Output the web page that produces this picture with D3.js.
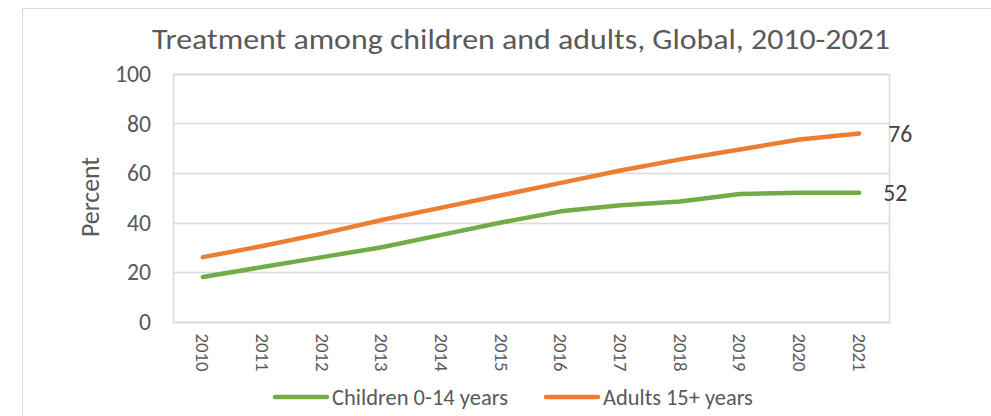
<!DOCTYPE html>
<html>
<head>
<meta charset="utf-8">
<script src="https://cdn.jsdelivr.net/npm/d3@7"></script>
<style>
  html, body { margin: 0; padding: 0; background: #fff; }
  svg { display: block; font-family: Carlito, Calibri, Lato, "Open Sans", sans-serif; }
</style>
</head>
<body>
<svg id="chart" width="991" height="416"></svg>
<script>
// Treatment coverage (%) by age group, 2010-2021
const years = ["2010", "2011", "2012", "2013", "2014", "2015", "2016", "2017", "2018", "2019", "2020", "2021"];
const children = [18, 22, 26, 30, 35, 40, 44.5, 47, 48.5, 51.5, 52, 52];
const adults = [26, 30.5, 35.5, 41, 46, 51, 56, 61, 65.5, 69.5, 73.5, 76];
const yTicks = [0, 20, 40, 60, 80, 100];
const seriesNames = ["Children 0-14 years", "Adults 15+ years"];
const seriesColors = ["#70ad47", "#ed7d31"];
const titleText = "Treatment among children and adults, Global, 2010-2021";
const yTitle = "Percent";

const svg = d3.select("#chart");
const W = 991, H = 416;
const plot = { left: 173, right: 889, top: 74, bottom: 321.5 };
const textColor = "#595959";
const gridColor = "#d9d9d9";

// scale a text's font size so that it spans the wanted width
function fitWidth(sel, width) {
  sel.each(function () {
    const t = d3.select(this);
    const fs = parseFloat(t.attr("font-size"));
    const w = this.getComputedTextLength();
    if (w > 0) t.attr("font-size", (fs * width / w).toFixed(2));
  });
  return sel;
}

// outer chart frame
svg.append("rect")
  .attr("x", 22.5).attr("y", 8.5)
  .attr("width", W).attr("height", H)
  .attr("fill", "#fff").attr("stroke", "#d9d9d9").attr("stroke-width", 1);

const x = d3.scaleBand().domain(years).range([plot.left, plot.right]).padding(0);
const y = d3.scaleLinear().domain([0, 100]).range([plot.bottom, plot.top]);

// title
svg.append("text")
  .attr("x", 521).attr("y", 49)
  .attr("text-anchor", "middle")
  .attr("font-size", 28)
  .attr("fill", textColor)
  .attr("textLength", 738)
  .attr("lengthAdjust", "spacingAndGlyphs")
  .text(titleText);

// horizontal gridlines
svg.append("g")
  .selectAll("line")
  .data(yTicks)
  .join("line")
  .attr("x1", plot.left).attr("x2", plot.right)
  .attr("y1", d => Math.round(y(d)) + 0.5)
  .attr("y2", d => Math.round(y(d)) + 0.5)
  .attr("stroke", gridColor).attr("stroke-width", 1.5);

// plot frame
svg.append("rect")
  .attr("x", plot.left + 0.5).attr("y", Math.round(plot.top) + 0.5)
  .attr("width", plot.right - plot.left)
  .attr("height", Math.round(plot.bottom) - Math.round(plot.top))
  .attr("fill", "none").attr("stroke", gridColor).attr("stroke-width", 1.5);

// y axis
const yAxis = svg.append("g")
  .attr("transform", `translate(${plot.left},0)`)
  .call(d3.axisLeft(y).tickValues(yTicks).tickSize(0).tickPadding(22));
yAxis.select(".domain").remove();
yAxis.selectAll("text")
  .attr("font-size", 19)
  .attr("fill", textColor)
  .attr("font-family", "Carlito, Calibri, Lato, sans-serif");
fitWidth(yAxis.selectAll("text").filter(d => d === 100), 36);
const yFs = yAxis.selectAll("text").filter(d => d === 100).attr("font-size");
yAxis.selectAll("text").attr("font-size", yFs);

// x axis, labels rotated to read downward
const xAxis = svg.append("g")
  .attr("transform", `translate(0,${plot.bottom})`)
  .call(d3.axisBottom(x).tickSize(0));
xAxis.select(".domain").remove();
xAxis.selectAll("text")
  .attr("font-size", 16)
  .attr("fill", textColor)
  .attr("font-family", "Carlito, Calibri, Lato, sans-serif")
  .attr("text-anchor", "start")
  .attr("dy", "0.35em")
  .attr("transform", "translate(0,12) rotate(90)")
  .attr("x", 0).attr("y", 0);
fitWidth(xAxis.selectAll("text"), 38);

// y axis title
fitWidth(svg.append("text")
  .attr("transform", `translate(99,197) rotate(-90)`)
  .attr("text-anchor", "middle")
  .attr("font-size", 21)
  .attr("fill", textColor)
  .text(yTitle), 80);

// series lines
const line = d3.line()
  .x((d, i) => x(years[i]) + x.bandwidth() / 2)
  .y(d => y(d));

[children, adults].forEach((vals, k) => {
  svg.append("path")
    .datum(vals)
    .attr("d", line)
    .attr("fill", "none")
    .attr("stroke", seriesColors[k])
    .attr("stroke-width", 4.5)
    .attr("stroke-linecap", "round")
    .attr("stroke-linejoin", "round");
});

// end-of-line value labels
const lastIdx = years.length - 1;
const endLabels = [
  { v: children[lastIdx], dx: 24 },
  { v: adults[lastIdx], dx: 29 }
];
endLabels.forEach(l => {
  fitWidth(svg.append("text")
    .attr("x", x(years[lastIdx]) + x.bandwidth() / 2 + l.dx)
    .attr("y", y(l.v))
    .attr("dy", "0.35em")
    .attr("font-size", 20)
    .attr("fill", "#404040")
    .text(d3.format("d")(l.v)), 24);
});

// legend
const legendItems = [
  { name: seriesNames[0], color: seriesColors[0], x0: 275, w: 176 },
  { name: seriesNames[1], color: seriesColors[1], x0: 546, w: 150 }
];
const legendY = 397;
legendItems.forEach(it => {
  svg.append("line")
    .attr("x1", it.x0).attr("x2", it.x0 + 52)
    .attr("y1", legendY).attr("y2", legendY)
    .attr("stroke", it.color).attr("stroke-width", 4.5)
    .attr("stroke-linecap", "round");
  fitWidth(svg.append("text")
    .attr("x", it.x0 + 57).attr("y", legendY)
    .attr("dy", "0.35em")
    .attr("font-size", 20)
    .attr("fill", textColor)
    .text(it.name), it.w);
});
</script>
</body>
</html>
